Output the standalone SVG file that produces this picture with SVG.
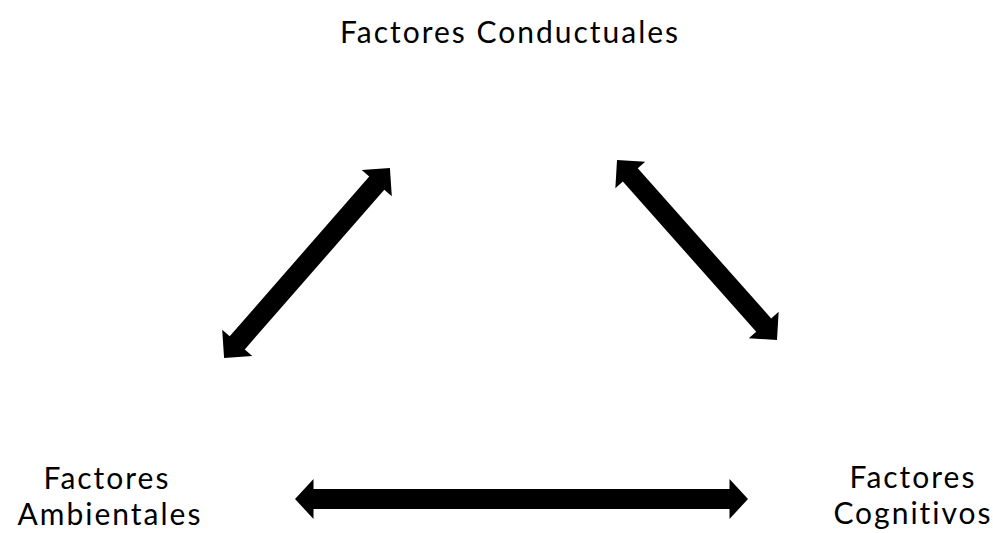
<svg xmlns="http://www.w3.org/2000/svg" width="993" height="533" viewBox="0 0 993 533">
<style>
.lbl{font-family:Lato,"Open Sans",sans-serif;font-size:30px;letter-spacing:2px;fill:#000;text-anchor:middle}
.arr{fill:#000}
</style>
<rect width="993" height="533" fill="#fff"/>
<g id="conductuales"><text class="lbl" x="510" y="43">Factores Conductuales</text></g>
<g id="ambientales"><text class="lbl" x="107" y="489">Factores</text><text class="lbl" x="110" y="525">Ambientales</text></g>
<g id="cognitivos"><text class="lbl" x="913" y="488">Factores</text><text class="lbl" x="913" y="524">Cognitivos</text></g>
<g id="connectors">
<polygon class="arr" transform="translate(307,263) rotate(-48.85)" points="-126,0 -106,-20 -106,-10 106,-10 106,-20 126,0 106,20 106,10 -106,10 -106,20"/>
<polygon class="arr" transform="translate(697,250) rotate(48.37)" points="-120.4,0 -100.4,-20 -100.4,-10 100.4,-10 100.4,-20 120.4,0 100.4,20 100.4,10 -100.4,10 -100.4,20"/>
<polygon class="arr" transform="translate(521.5,499)" points="-226.5,0 -208,-20 -208,-10 208,-10 208,-20 226.5,0 208,20 208,10 -208,10 -208,20"/>
</g>
</svg>
